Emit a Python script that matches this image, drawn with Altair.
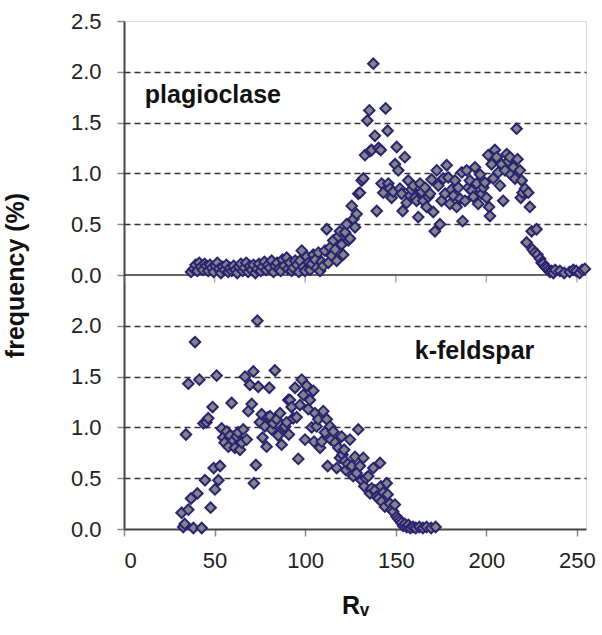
import altair as alt
import pandas as pd

# plagioclase (top panel): R_v and frequency (%)
plag_rv = [37, 38.5, 39.5, 40.5, 41.5, 42.5, 43.5, 44.5, 45.5, 46.5, 47.5, 48.5, 49.5, 50.5, 51.5,
           52.5, 53.5, 54.5, 55.5, 56.5, 57.5, 58.5, 59.5, 60.5, 61.5, 62.5, 63.5, 64.5, 65.5, 66.5,
           67.5, 68.5, 69.5, 70.5, 71.5, 72.5, 73.5, 74.5, 75.5, 76.5, 77.5, 78.5, 79.5, 80.5, 81.5,
           82.5, 83.5, 84.5, 85.5, 86.5, 87.5, 88.5, 89.8, 90.5, 91.5, 92.5, 93.4, 94.5, 95.5, 96.5,
           97.1, 98.1, 99.0, 99.9, 100.8, 101.8, 102.7, 103.6, 104.5, 105.5, 106.4, 107.3, 108.2, 109.1,
           110.0, 110.9, 111.9, 112.8, 113.7, 114.6, 115.5, 116.5, 117.4, 118.3, 119.2, 120.1, 121.0,
           122.0, 122.9, 123.8, 124.7, 125.7, 126.6, 127.5, 128.4, 129.3, 130.2, 131.2, 132.1, 133.0,
           134.3, 135.4, 135.8, 136.7, 137.6, 138.5, 139.5, 140.5, 141.7, 142.2, 143.1, 144.4, 145.5,
           145.9, 146.8, 147.7, 148.6, 149.6, 150.5, 151.4, 152.3, 153.2, 153.8, 155.0, 156.0, 156.9,
           157.8, 158.7, 159.7, 160.6, 161.5, 162.4, 163.4, 164.3, 165.2, 166.1, 167.0, 168.0, 168.9,
           169.8, 170.7, 171.6, 172.6, 173.5, 174.4, 175.3, 176.2, 177.2, 178.1, 179.0, 179.9, 180.8,
           181.8, 182.7, 183.6, 184.5, 185.5, 186.4, 186.9, 188.2, 189.1, 190.0, 190.9, 191.9, 192.8,
           193.7, 194.6, 195.5, 196.5, 197.4, 198.3, 199.2, 200.1, 201.0, 201.5, 202.0, 202.9, 203.8,
           204.7, 205.7, 206.6, 207.5, 208.4, 209.3, 210.3, 211.2, 212.1, 213.0, 213.5, 214.9, 215.8,
           216.7, 217.2, 218.5, 219.0, 219.5, 220.0, 221.3, 222.2, 223.1, 224.0, 225.0, 225.5, 226.8,
           227.7, 228.2, 229.6, 230.5, 231.4, 232.4, 233.3, 234.2, 235.1, 236.0, 237.0, 238.0, 240.6,
           243.0, 246.0, 248.0, 249.6, 251.5, 253.0, 254.4]
plag_freq = [0.03, 0.06, 0.10, 0.04, 0.12, 0.08, 0.05, 0.11, 0.09, 0.04, 0.10, 0.07, 0.03, 0.09, 0.12,
             0.06, 0.02, 0.08, 0.05, 0.10, 0.03, 0.07, 0.04, 0.09, 0.05, 0.02, 0.08, 0.11, 0.04, 0.07,
             0.12, 0.03, 0.09, 0.05, 0.10, 0.02, 0.06, 0.11, 0.04, 0.08, 0.13, 0.05, 0.10, 0.07, 0.14,
             0.03, 0.09, 0.12, 0.06, 0.04, 0.15, 0.09, 0.17, 0.06, 0.12, 0.04, 0.07, 0.14, 0.10, 0.03,
             0.14, 0.24, 0.08, 0.04, 0.18, 0.12, 0.05, 0.11, 0.20, 0.15, 0.07, 0.22, 0.04, 0.13,
             0.09, 0.24, 0.45, 0.12, 0.27, 0.19, 0.34, 0.25, 0.14, 0.38, 0.43, 0.30, 0.20,
             0.42, 0.50, 0.34, 0.36, 0.68, 0.55, 0.47, 0.60, 0.80, 0.81, 0.93, 0.95, 1.18,
             1.52, 1.62, 1.22, 1.23, 2.08, 1.37, 0.63, 1.25, 1.23, 0.90, 0.81, 1.64, 1.42,
             0.90, 0.85, 0.76, 0.82, 1.09, 1.26, 1.03, 0.85, 0.80, 0.63, 1.16, 0.71, 0.93,
             0.78, 0.84, 0.88, 0.76, 0.73, 0.57, 0.90, 0.82, 0.73, 0.86, 0.67, 0.77, 0.80,
             0.94, 0.62, 0.43, 1.03, 0.88, 0.50, 0.73, 0.95, 0.80, 1.08, 0.96, 0.70, 0.84,
             0.78, 0.93, 0.67, 0.86, 0.75, 1.01, 0.53, 0.73, 1.03, 0.86, 0.93, 0.83, 0.77,
             1.06, 0.90, 0.70, 0.99, 0.80, 0.86, 0.91, 0.76, 1.18, 0.67, 0.58, 1.09, 0.95,
             1.23, 1.16, 1.01, 0.88, 1.09, 0.73, 1.03, 1.19, 1.12, 1.16, 0.99, 1.06, 0.95,
             1.44, 1.14, 1.03, 0.76, 0.93, 0.81, 0.85, 0.32, 0.81, 0.67, 0.43, 0.25, 0.22,
             0.45, 0.20, 0.16, 0.12, 0.11, 0.08, 0.07, 0.05, 0.03, 0.04, 0.02, 0.05, 0.04,
             0.02, 0.03, 0.05, 0.04, 0.02, 0.05, 0.06]

# k-feldspar (bottom panel)
kfs_rv = [31.8, 32.7, 33.5, 34.2, 35.5, 35.5, 37.0, 38.3, 39.2, 40.5, 41.6, 42.9, 43.8, 44.7, 45.5,
          46.5, 47.8, 48.9, 49.5, 50.2, 51.1, 52.1, 53.0, 53.9, 54.8, 55.5, 56.7, 57.6, 58.5, 59.4,
          60.3, 61.2, 62.2, 63.0, 64.0, 65.0, 65.8, 66.8, 67.7, 68.6, 69.5, 70.5, 71.4, 71.7, 72.8,
          73.6, 74.1, 75.0, 76.0, 76.5, 77.8, 78.7, 79.5, 80.2, 80.6, 81.5, 82.4, 83.3, 84.2, 85.1,
          86.1, 87.0, 87.9, 88.9, 89.8, 90.7, 91.0, 91.6, 92.5, 93.4, 94.4, 95.3, 96.2, 97.1, 98.1,
          99.0, 99.9, 100.8, 101.7, 102.6, 103.6, 104.5, 104.9, 105.4, 106.3, 107.2, 108.2, 109.1,
          110.0, 110.9, 111.9, 112.4, 113.7, 114.2, 115.5, 116.5, 117.4, 118.3, 119.2, 120.1, 120.6,
          121.5, 122.0, 122.5, 123.5, 124.7, 125.7, 126.5, 127.5, 128.4, 129.3, 130.2, 131.1, 132.1,
          132.6, 133.5, 134.8, 135.8, 136.7, 137.6, 138.5, 139.5, 140.4, 141.3, 141.8, 142.2, 143.1,
          144.0, 145.0, 145.5, 146.8, 147.7, 148.6, 149.5, 150.5, 151.4, 152.3, 153.2, 154.1, 155.0,
          156.0, 157.0, 158.0, 159.5, 161.0, 163.0, 165.0, 167.0, 169.5, 172.0]
kfs_freq = [0.16, 0.02, 0.05, 0.93, 0.19, 1.43, 0.30, 0.01, 1.84, 0.35, 1.47, 0.01, 1.04, 0.48, 1.05,
            1.09, 0.21, 1.20, 0.60, 0.39, 1.51, 0.48, 0.62, 0.99, 0.90, 0.85, 0.96, 0.81, 0.92, 1.24,
            0.87, 0.80, 0.91, 0.95, 0.78, 0.85, 0.98, 1.50, 0.88, 1.16, 1.42, 1.23, 1.55, 0.45, 0.63,
            2.05, 1.40, 1.05, 1.13, 0.90, 1.01, 0.81, 1.10, 1.39, 1.11, 0.98, 1.04, 1.56, 1.08, 0.92,
            1.14, 0.83, 1.00, 1.01, 1.05, 1.27, 0.93, 1.27, 1.20, 1.09, 1.39, 1.10, 0.69, 1.22, 1.47,
            1.32, 0.88, 1.41, 1.18, 1.27, 1.00, 1.36, 0.86, 1.14, 1.01, 1.08, 0.80, 0.86,
            1.16, 0.95, 1.08, 0.62, 1.01, 0.88, 0.96, 0.85, 0.60, 0.80, 0.70, 0.91, 0.73,
            0.78, 0.67, 0.58, 0.64, 0.88, 0.62, 0.52, 0.71, 0.55, 0.98, 0.62, 0.48, 0.70,
            0.42, 0.50, 0.52, 0.35, 0.40, 0.60, 0.38, 0.32, 0.30, 0.65, 0.42, 0.27, 0.36,
            0.22, 0.45, 0.34, 0.25, 0.19, 0.17, 0.24, 0.12, 0.10, 0.08, 0.06, 0.03, 0.05,
            0.02, 0.04, 0.01, 0.02, 0.01, 0.02, 0.01, 0.02, 0.01, 0.02]

# panel labels
label_text = ["plagioclase", "k-feldspar"]
label_rv = [11.5, 160.5]
label_pos = [4.27, 1.75]

# x tick values (also used for the ticks under the middle separator line)
x_ticks = [0, 50, 100, 150, 200, 250]
y_ticks = [0, 0.5, 1, 1.5, 2, 2.5, 3, 3.5, 4, 4.5, 5]

PANEL_OFFSET = 2.5  # top panel stacked above bottom panel on a shared 0..5 scale

df = pd.concat([
    pd.DataFrame({"rv": plag_rv, "freq": plag_freq, "mineral": "plagioclase"}),
    pd.DataFrame({"rv": kfs_rv, "freq": kfs_freq, "mineral": "k-feldspar"}),
], ignore_index=True)
df["ypos"] = df["freq"] + (df["mineral"] == "plagioclase") * PANEL_OFFSET

labels_df = pd.DataFrame({"text": label_text, "rv": label_rv, "ypos": label_pos})
mid_df = pd.DataFrame({"rv": [0, 255], "ypos": [PANEL_OFFSET, PANEL_OFFSET]})
midticks_df = pd.DataFrame({"rv": x_ticks, "ypos": [PANEL_OFFSET] * len(x_ticks)})

FONT = "Liberation Sans"

x_scale = alt.Scale(domain=[0, 255], nice=False, zero=False)
y_scale = alt.Scale(domain=[0, 5], nice=False)

y_axis = alt.Axis(
    values=y_ticks,
    labelExpr="datum.value >= 2.5 ? format(datum.value - 2.5, '.1f') : format(datum.value, '.1f')",
    title="frequency (%)",
    titleFont=FONT, titleFontSize=25, titleFontWeight="bold", titleColor="#111",
    titleX=-96, titleY=254, titleAngle=-90,
    labelFont=FONT, labelFontSize=22, labelColor="#222", labelPadding=16,
    tickSize=7, tickColor="#888", tickWidth=1.5,
    domain=True, domainColor="#444", domainWidth=2,
    grid=True, gridColor="#333", gridWidth=1.5, gridDash=[6, 4],
    gridOpacity={"condition": {"test": "datum.value == 0 || datum.value == 2.5 || datum.value == 5", "value": 0}, "value": 1},
)

x_axis = alt.Axis(
    values=x_ticks,
    title="Rᵥ",
    titleFont=FONT, titleFontSize=25, titleFontWeight="bold", titleColor="#111", titlePadding=22,
    labelFont=FONT, labelFontSize=22, labelColor="#222", labelPadding=14,
    tickSize=7, tickColor="#888", tickWidth=1.5,
    domain=True, domainColor="#444", domainWidth=2, grid=False,
)

X = alt.X("rv:Q", scale=x_scale, axis=x_axis)
Y = alt.Y("ypos:Q", scale=y_scale, axis=y_axis)

# middle separator line
mid = alt.Chart(mid_df).mark_line(color="#333", strokeWidth=1.5).encode(x=X, y=Y)

# short tick marks hanging below the separator
midticks = alt.Chart(midticks_df).mark_tick(
    orient="vertical", size=7, thickness=1.5, color="#888", yOffset=4
).encode(x=X, y=Y)

points = alt.Chart(df).mark_point(
    shape="diamond", filled=True, size=110, fill="#7f8788", stroke="#2b2272", strokeWidth=2, opacity=1
).encode(x=X, y=Y)

texts = alt.Chart(labels_df).mark_text(
    align="left", baseline="middle", font=FONT, fontSize=25, fontWeight="bold", color="#111"
).encode(x=X, y=Y, text="text:N")

chart = alt.layer(mid, midticks, points, texts).properties(
    width=462, height=508,
    autosize=alt.AutoSizeParams(type="none"),
    padding={"left": 124, "top": 21, "right": 16, "bottom": 106},
).configure_view(stroke="#666", strokeWidth=1.5).configure(background="white")

chart.save("out.html", embed_options={"renderer": "svg", "actions": False})
